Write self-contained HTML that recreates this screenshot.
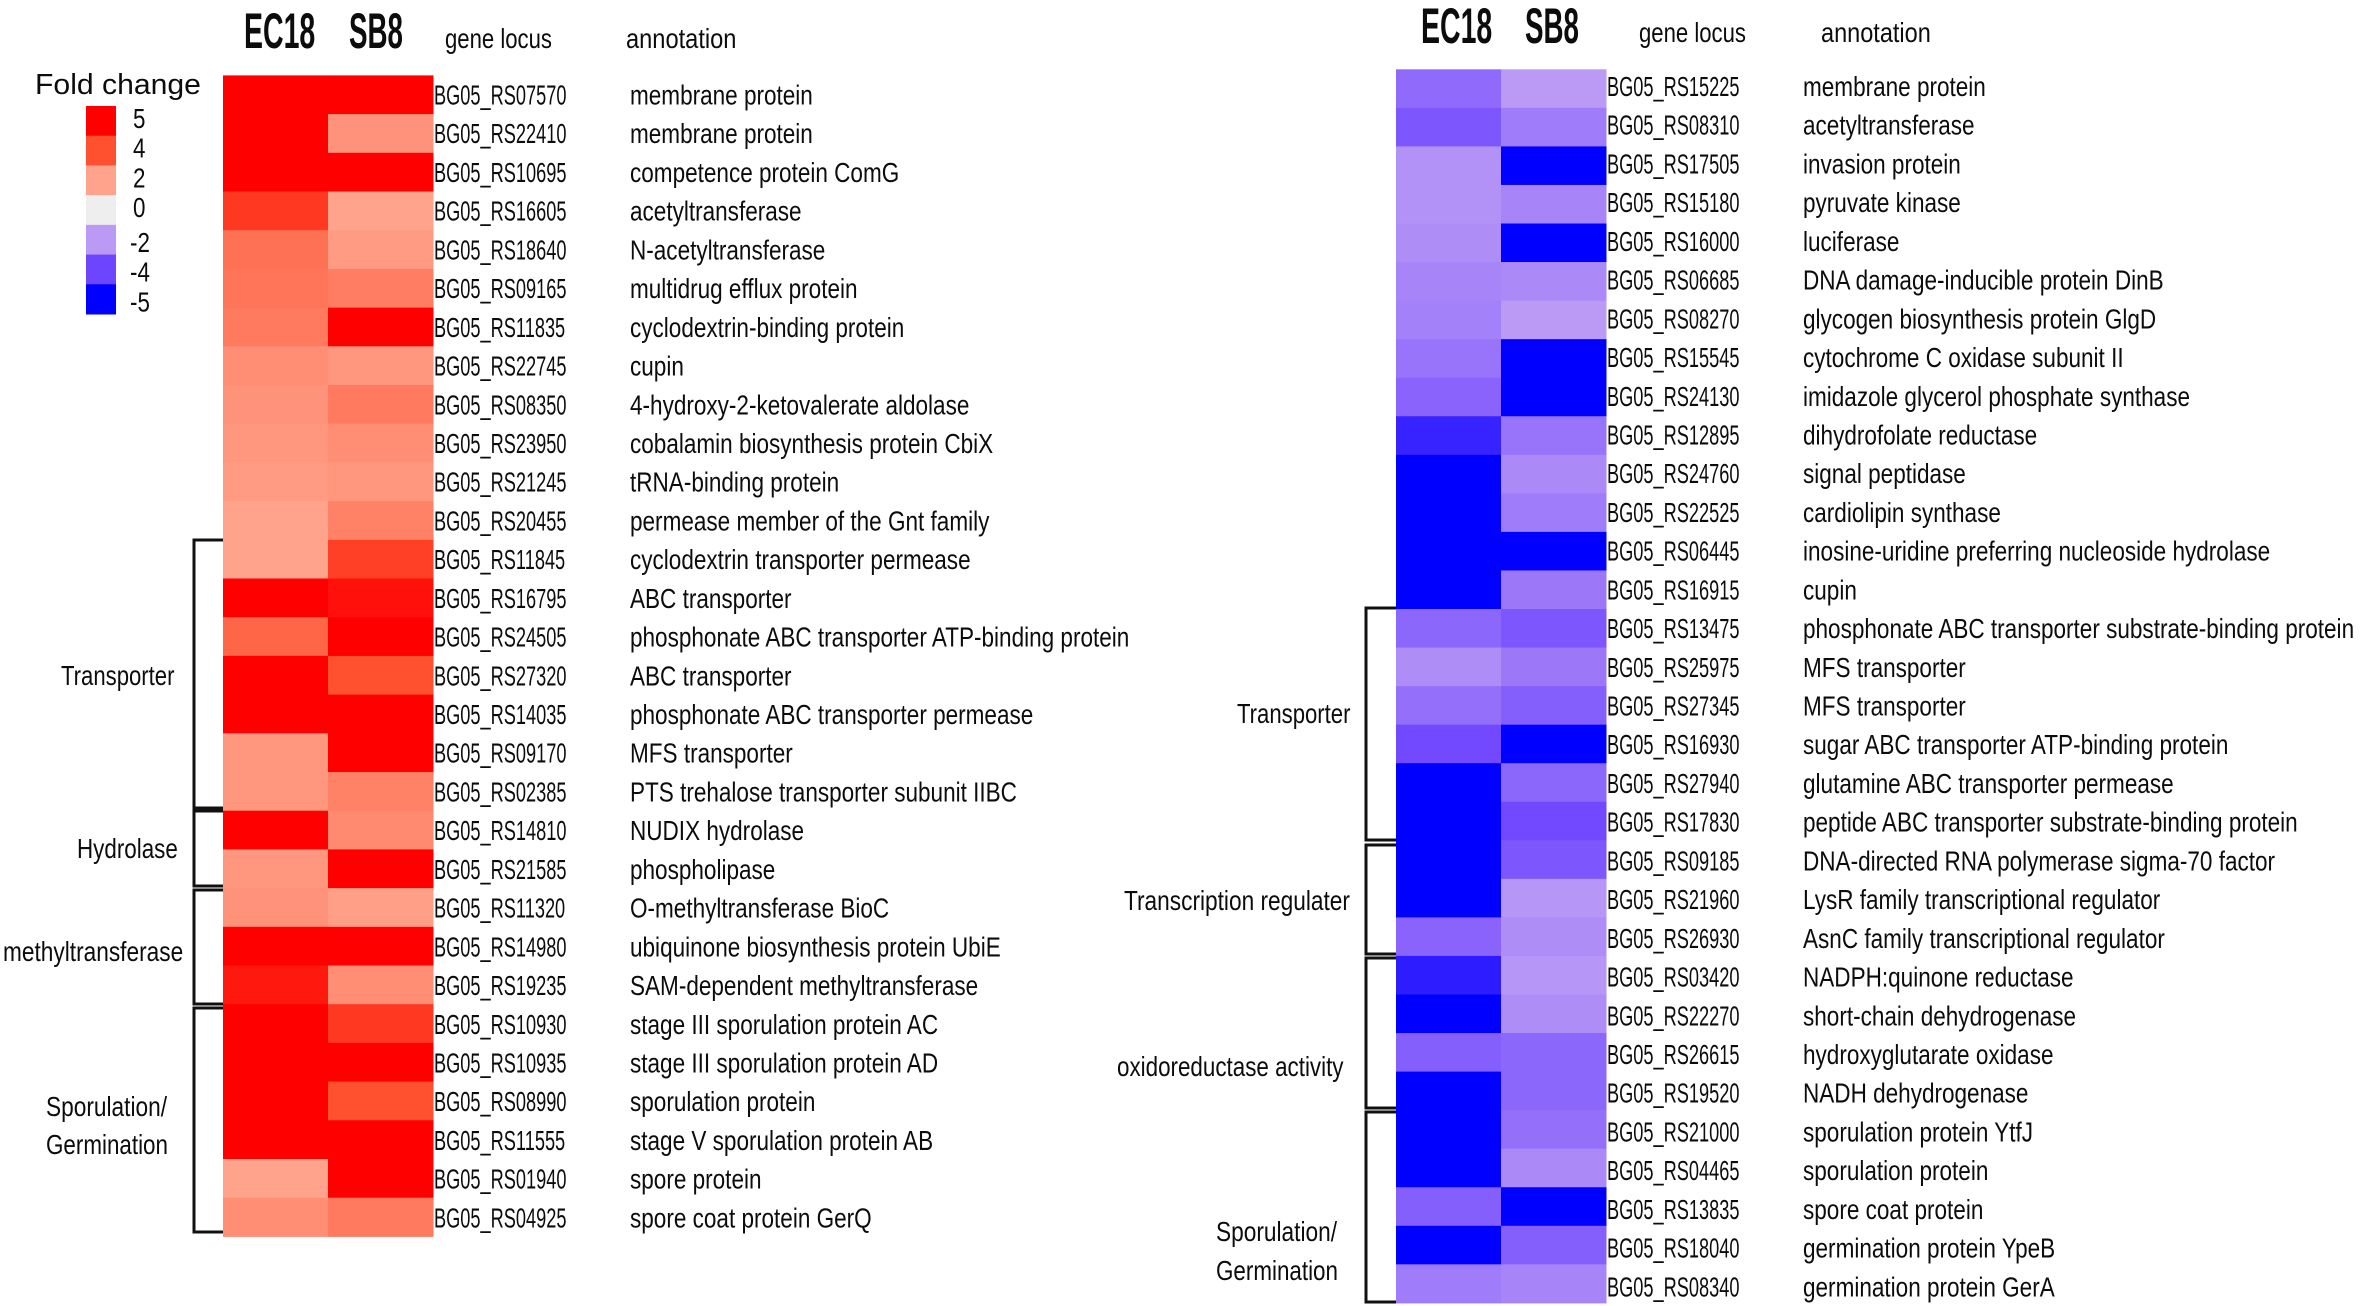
<!DOCTYPE html>
<html lang="en">
<head>
<meta charset="utf-8">
<title>Fold change heatmaps</title>
<style>
html,body{margin:0;padding:0;background:#fff;}
svg{display:block;}
text{font-family:"Liberation Sans",sans-serif;fill:#0c0c0c;}
</style>
</head>
<body>
<svg id="chart" xmlns="http://www.w3.org/2000/svg" width="2362" height="1306" viewBox="0 0 2362 1306">
  <g>
    <text transform="translate(244,48) scale(.57,1)" font-size="50" font-weight="bold">EC18</text>
    <text transform="translate(349,48) scale(.555,1)" font-size="50" font-weight="bold">SB8</text>
    <text transform="translate(445,48) scale(.79,1)" font-size="28">gene locus</text>
    <text transform="translate(626,48) scale(.845,1)" font-size="28">annotation</text>
  </g>
  <g>
    <text transform="translate(1421,43) scale(.57,1)" font-size="50" font-weight="bold">EC18</text>
    <text transform="translate(1525,43) scale(.555,1)" font-size="50" font-weight="bold">SB8</text>
    <text transform="translate(1639,42) scale(.79,1)" font-size="28">gene locus</text>
    <text transform="translate(1821,42) scale(.84,1)" font-size="28">annotation</text>
  </g>
  <text transform="translate(35,94) scale(1.04,1)" font-size="29">Fold change</text>
  <g fill="none" stroke="#111" stroke-width="3">
    <path d="M223 540H194V808H223"/>
    <path d="M223 811H194V886H223"/>
    <path d="M223 890H194V1004H223"/>
    <path d="M223 1008H194V1232H223"/>
  </g>
  <g fill="none" stroke="#111" stroke-width="3">
    <path d="M1396 608H1366V840H1396"/>
    <path d="M1396 845H1366V954H1396"/>
    <path d="M1396 958H1366V1108H1396"/>
    <path d="M1396 1112H1366V1302H1396"/>
  </g>
  <g font-size="28">
    <text transform="translate(61,685) scale(.79,1)">Transporter</text>
    <text transform="translate(77,858) scale(.8,1)">Hydrolase</text>
    <text transform="translate(3,961) scale(.81,1)">methyltransferase</text>
    <text transform="translate(46,1116) scale(.81,1)">Sporulation/</text>
    <text transform="translate(46,1154) scale(.8,1)">Germination</text>
  </g>
  <g font-size="28">
    <text transform="translate(1237,723) scale(.79,1)">Transporter</text>
    <text transform="translate(1124,910) scale(.81,1)">Transcription regulater</text>
    <text transform="translate(1117,1076) scale(.8,1)">oxidoreductase activity</text>
    <text transform="translate(1216,1241) scale(.81,1)">Sporulation/</text>
    <text transform="translate(1216,1280) scale(.8,1)">Germination</text>
  </g>
  <g id="legend"></g>
  <g id="leftPanel"></g>
  <g id="rightPanel"></g>
</svg>
<script>
const legendValues = [5, 4, 2, 0, -2, -4, -5];
const leftLocus = ["BG05_RS07570","BG05_RS22410","BG05_RS10695","BG05_RS16605","BG05_RS18640","BG05_RS09165","BG05_RS11835","BG05_RS22745","BG05_RS08350","BG05_RS23950","BG05_RS21245","BG05_RS20455","BG05_RS11845","BG05_RS16795","BG05_RS24505","BG05_RS27320","BG05_RS14035","BG05_RS09170","BG05_RS02385","BG05_RS14810","BG05_RS21585","BG05_RS11320","BG05_RS14980","BG05_RS19235","BG05_RS10930","BG05_RS10935","BG05_RS08990","BG05_RS11555","BG05_RS01940","BG05_RS04925"];
const leftAnnotation = ["membrane protein","membrane protein","competence protein ComG","acetyltransferase","N-acetyltransferase","multidrug efflux protein","cyclodextrin-binding protein","cupin","4-hydroxy-2-ketovalerate aldolase","cobalamin biosynthesis protein CbiX","tRNA-binding protein","permease member of the Gnt family","cyclodextrin transporter permease","ABC transporter","phosphonate ABC transporter ATP-binding protein","ABC transporter","phosphonate ABC transporter permease","MFS transporter","PTS trehalose transporter subunit IIBC","NUDIX hydrolase","phospholipase","O-methyltransferase BioC","ubiquinone biosynthesis protein UbiE","SAM-dependent methyltransferase","stage III sporulation protein AC","stage III sporulation protein AD","sporulation protein","stage V sporulation protein AB","spore protein","spore coat protein GerQ"];
const leftEC18 = [5,5,5,4.3,3.2,3.1,3,2.5,2.4,2.3,2.2,2,2,5,3.5,5,5,2.3,2.3,5,2.3,2.4,5,4.7,5,5,5,5,2,2.5];
const leftSB8 = [5,2.4,5,2,2.2,2.9,5,2.3,3,2.5,2.3,2.8,4.2,4.8,5,4,5,5,2.8,2.6,5,2.1,5,2.5,4.3,5,4,5,5,3];
const rightLocus = ["BG05_RS15225","BG05_RS08310","BG05_RS17505","BG05_RS15180","BG05_RS16000","BG05_RS06685","BG05_RS08270","BG05_RS15545","BG05_RS24130","BG05_RS12895","BG05_RS24760","BG05_RS22525","BG05_RS06445","BG05_RS16915","BG05_RS13475","BG05_RS25975","BG05_RS27345","BG05_RS16930","BG05_RS27940","BG05_RS17830","BG05_RS09185","BG05_RS21960","BG05_RS26930","BG05_RS03420","BG05_RS22270","BG05_RS26615","BG05_RS19520","BG05_RS21000","BG05_RS04465","BG05_RS13835","BG05_RS18040","BG05_RS08340"];
const rightAnnotation = ["membrane protein","acetyltransferase","invasion protein","pyruvate kinase","luciferase","DNA damage-inducible protein DinB","glycogen biosynthesis protein GlgD","cytochrome C oxidase subunit II","imidazole glycerol phosphate synthase","dihydrofolate reductase","signal peptidase","cardiolipin synthase","inosine-uridine preferring nucleoside hydrolase","cupin","phosphonate ABC transporter substrate-binding protein","MFS transporter","MFS transporter","sugar ABC transporter ATP-binding protein","glutamine ABC transporter permease","peptide ABC transporter substrate-binding protein","DNA-directed RNA polymerase sigma-70 factor","LysR family transcriptional regulator","AsnC family transcriptional regulator","NADPH:quinone reductase","short-chain dehydrogenase","hydroxyglutarate oxidase","NADH dehydrogenase","sporulation protein YtfJ","sporulation protein","spore coat protein","germination protein YpeB","germination protein GerA"];
const rightEC18 = [-3.1,-3.6,-2.2,-2.2,-2.3,-2.5,-2.6,-2.9,-3.3,-4.5,-5,-5,-5,-5,-3.2,-2.3,-3,-3.9,-5,-5,-5,-5,-3.3,-4.6,-5,-3.4,-5,-5,-5,-3.4,-5,-2.7];
const rightSB8 = [-2,-2.7,-5,-2.5,-5,-2.4,-2,-5,-5,-2.9,-2.4,-2.7,-5,-2.8,-3.6,-2.8,-3.4,-5,-3.2,-3.9,-3.6,-2.1,-2.3,-2.1,-2.3,-3.2,-3.2,-3,-2.4,-5,-3.4,-2.5];

const NS = "http://www.w3.org/2000/svg";
const posStops = [[0,[238,238,238]],[2,[255,163,140]],[4,[255,80,48]],[5,[255,0,0]]];
const negStops = [[0,[238,238,238]],[2,[186,154,245]],[4,[110,69,255]],[5,[0,0,255]]];

function colorOf(v) {
  const stops = v < 0 ? negStops : posStops;
  const a = Math.min(Math.abs(v), 5);
  for (let i = 1; i < stops.length; i++) {
    if (a <= stops[i][0]) {
      const t = (a - stops[i-1][0]) / (stops[i][0] - stops[i-1][0]);
      const c = stops[i][1].map((s, k) => Math.round(stops[i-1][1][k] + (s - stops[i-1][1][k]) * t));
      return "rgb(" + c.join(",") + ")";
    }
  }
  return "rgb(" + stops[stops.length-1][1].join(",") + ")";
}

function drawPanel(root, cfg) {
  const xBand = c => cfg.left + c * cfg.colW;
  const yBand = r => cfg.top + r * cfg.rowH;
  const yText = r => cfg.textTop + r * cfg.textStep;
  const cols = [cfg.ec18, cfg.sb8];
  const colNames = ["ec18", "sb8"];
  cols.forEach((series, c) => {
    series.forEach((v, r) => {
      const rect = document.createElementNS(NS, "rect");
      
      
      rect.setAttribute("x", xBand(c));
      rect.setAttribute("y", yBand(r));
      rect.setAttribute("width", cfg.colW + 0.5);
      rect.setAttribute("height", cfg.rowH + 0.5);
      rect.setAttribute("fill", colorOf(v));
      root.appendChild(rect);
    });
  });
  cfg.locus.forEach((name, r) => {
    const baseline = yText(r) + 9.5;
    const t = document.createElementNS(NS, "text");
    
    
    t.setAttribute("transform", "translate(" + cfg.locusX + "," + baseline + ") scale(.65,1)");
    t.setAttribute("font-size", "28");
    t.textContent = name;
    root.appendChild(t);
    const a = document.createElementNS(NS, "text");
    
    
    a.setAttribute("transform", "translate(" + cfg.annoX + "," + baseline + ") scale(.805,1)");
    a.setAttribute("font-size", "28");
    a.textContent = cfg.annotation[r];
    root.appendChild(a);
  });
}

drawPanel(document.getElementById("leftPanel"), {
  left: 223, colW: 105, top: 75.4, rowH: 38.7, locusX: 434, annoX: 630,
  textTop: 95, textStep: 38.72,
  locus: leftLocus, annotation: leftAnnotation, ec18: leftEC18, sb8: leftSB8
});
drawPanel(document.getElementById("rightPanel"), {
  left: 1396, colW: 105, top: 69.3, rowH: 38.55, locusX: 1607, annoX: 1803,
  textTop: 86.5, textStep: 38.72,
  locus: rightLocus, annotation: rightAnnotation, ec18: rightEC18, sb8: rightSB8
});

const legendRoot = document.getElementById("legend");
const legendBand = i => 106 + i * (208 / legendValues.length);
legendValues.forEach((v, i) => {
  const r = document.createElementNS(NS, "rect");
  
  
  r.setAttribute("x", 86);
  r.setAttribute("y", legendBand(i));
  r.setAttribute("width", 30);
  r.setAttribute("height", 208 / legendValues.length + 0.5);
  r.setAttribute("fill", colorOf(v));
  legendRoot.appendChild(r);
  const t = document.createElementNS(NS, "text");
  
  
  t.setAttribute("transform", "translate(" + (v < 0 ? 130 : 133) + "," + (legendBand(i) + (v < 0 ? 27 : 22)) + ") scale(.8,1)");
  t.setAttribute("font-size", "28");
  t.textContent = String(v);
  legendRoot.appendChild(t);
});
</script>
</body>
</html>
